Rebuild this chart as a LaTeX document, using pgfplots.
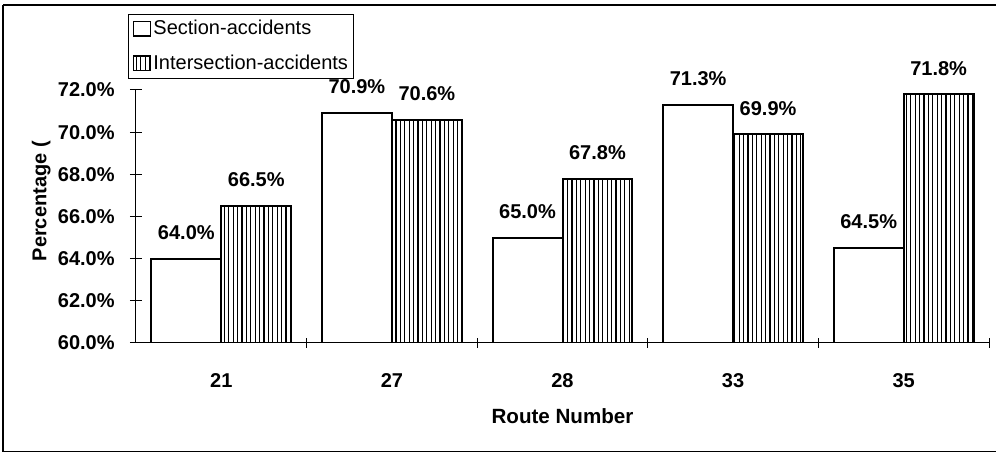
\documentclass[border=0pt]{standalone}
\usepackage{fontspec}
\setmainfont{Liberation Sans}
\usepackage{pgfplots}
\pgfplotsset{compat=1.18}
\usetikzlibrary{patterns.meta}
\begin{document}
\begin{tikzpicture}
\useasboundingbox (0,0) rectangle (498pt,226.5pt);
\draw[line width=0.6pt] (1.5pt,0.6pt) -- (1.5pt,224pt);
\draw[line width=0.6pt] (1.5pt,224pt) -- (498pt,224pt);
\draw[line width=0.6pt] (1.5pt,0.6pt) -- (498pt,0.6pt);
\begin{axis}[
  at={(68pt,55pt)}, anchor=south west,
  scale only axis, width=426.5pt, height=126.5pt,
  /pgf/number format/assume math mode=true,
  ybar, bar width=0.41,
  xmin=-0.5, xmax=4.5, ymin=60, ymax=72,
  axis x line=bottom, axis y line=left,
  axis line style={-, line width=0.5pt},
  xtick={0,1,2,3,4},
  xticklabels={21,27,28,33,35},
  major x tick style={draw=none},
  minor xtick={0.5,1.5,2.5,3.5,4.5},
  minor tick length=5pt,
  minor x tick style={line width=0.5pt},
  ytick={60,62,...,72},
  major tick length=6pt,
  tick align=center,
  tick style={line width=0.5pt, black},
  yticklabel={\pgfmathprintnumber[fixed,fixed zerofill,precision=1]{\tick}\%},
  yticklabel style={font=\fontsize{10}{11}\selectfont\bfseries, inner sep=0pt, xshift=-7.5pt},
  xticklabel style={font=\fontsize{10}{11}\selectfont\bfseries, inner sep=0pt, yshift=-12pt},
  ylabel={Percentage (},
  ylabel style={font=\fontsize{10}{12}\selectfont\bfseries, at={(axis description cs:-0.111,0.56)}, anchor=center},
  xlabel={Route Number},
  xlabel style={font=\fontsize{10.3}{12}\selectfont\bfseries, at={(axis description cs:0.5,-0.29)}, anchor=center},
  nodes near coords={\pgfmathprintnumber[fixed,fixed zerofill,precision=1]{\pgfplotspointmeta}\%},
  every node near coord/.append style={font=\fontsize{10}{11}\selectfont\bfseries, inner sep=0pt, anchor=south, yshift=9pt, black},
  legend style={at={(axis description cs:-0.009,1.302)}, anchor=north west, draw=black, line width=0.5pt,
    font=\fontsize{10}{12}\selectfont, inner xsep=2pt, inner ysep=2pt, row sep=6.5pt, column sep=0pt,
    nodes={inner sep=1pt}},
  legend cell align=left,
  legend image code/.code={\draw[#1, line width=0.8pt] (0pt,-3.6pt) rectangle (8.5pt,3.6pt);},
]
\addplot[draw=black, line width=1pt, fill=white, bar shift=-0.205] coordinates {(0,64.0) (1,70.9) (2,65.0) (3,71.3) (4,64.5)};
\addplot[draw=black, line width=1pt, pattern={Lines[angle=90,distance=2.2pt,line width=0.55pt]}, bar shift=0.205] coordinates {(0,66.5) (1,70.6) (2,67.8) (3,69.9) (4,71.8)};
\legend{Section-accidents, Intersection-accidents}
\end{axis}
\end{tikzpicture}
\end{document}
